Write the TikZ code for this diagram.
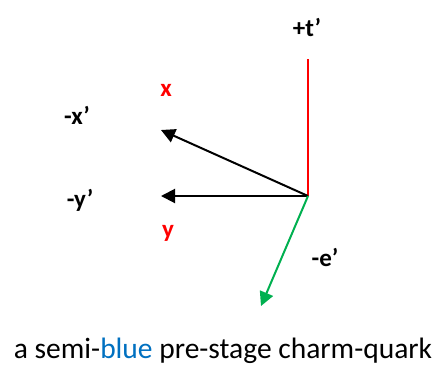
\documentclass[tikz,border=0pt]{standalone}
\usepackage{fontspec}
\setmainfont{Carlito}
\usetikzlibrary{arrows.meta}
\definecolor{AxisRed}{HTML}{FF0000}
\definecolor{AxisGreen}{HTML}{00B050}
\definecolor{CaptionBlue}{HTML}{0070C0}
\tikzset{
    % Axis styles
    redaxis/.style={
        draw=AxisRed,
        line width=2pt
    },
    blackarrow/.style={
        -{Triangle[length=14pt,width=14pt]},
        line width=2pt,
        black
    },
    greenarrow/.style={
        -{Triangle[length=14pt,width=14pt]},
        line width=2pt,
        AxisGreen
    },
    % Label styles
    axislabel/.style={
        font=\fontsize{25}{29}\selectfont\bfseries,
        inner sep=0pt
    },
    redlabel/.style={
        axislabel,
        text=AxisRed
    },
    captiontext/.style={
        font=\fontsize{29.5}{34}\selectfont,
        inner sep=0pt
    }
}
\begin{document}
\begin{tikzpicture}[x=1pt,y=-1pt]
    \useasboundingbox (0,0) rectangle (438,365);

    % Axis end points
    \coordinate (origin) at (308,196);
    \coordinate (ttop) at (308,59);
    \coordinate (xtip) at (161,130);
    \coordinate (ytip) at (161,196);
    \coordinate (etip) at (261,306);

    % Axes
    \draw[redaxis] (origin) -- (ttop);
    \draw[blackarrow] (origin) -- (xtip);
    \draw[blackarrow] (origin) -- (ytip);
    \draw[greenarrow] (origin) -- (etip);

    % Labels
    \node[axislabel] (tlabel) at (307,27) {+t’};
    \node[redlabel] (xlabel) at (166,90) {x};
    \node[axislabel] (xplabel) at (77,115) {-x’};
    \node[axislabel] (yplabel) at (80,200) {-y’};
    \node[redlabel] (ylabel) at (168,233) {y};
    \node[axislabel] (eplabel) at (325,257) {-e’};

    % Caption
    \node[captiontext] (caption) at (223,351) {a semi-\textcolor{CaptionBlue}{blue} pre-stage charm-quark};
\end{tikzpicture}
\end{document}
